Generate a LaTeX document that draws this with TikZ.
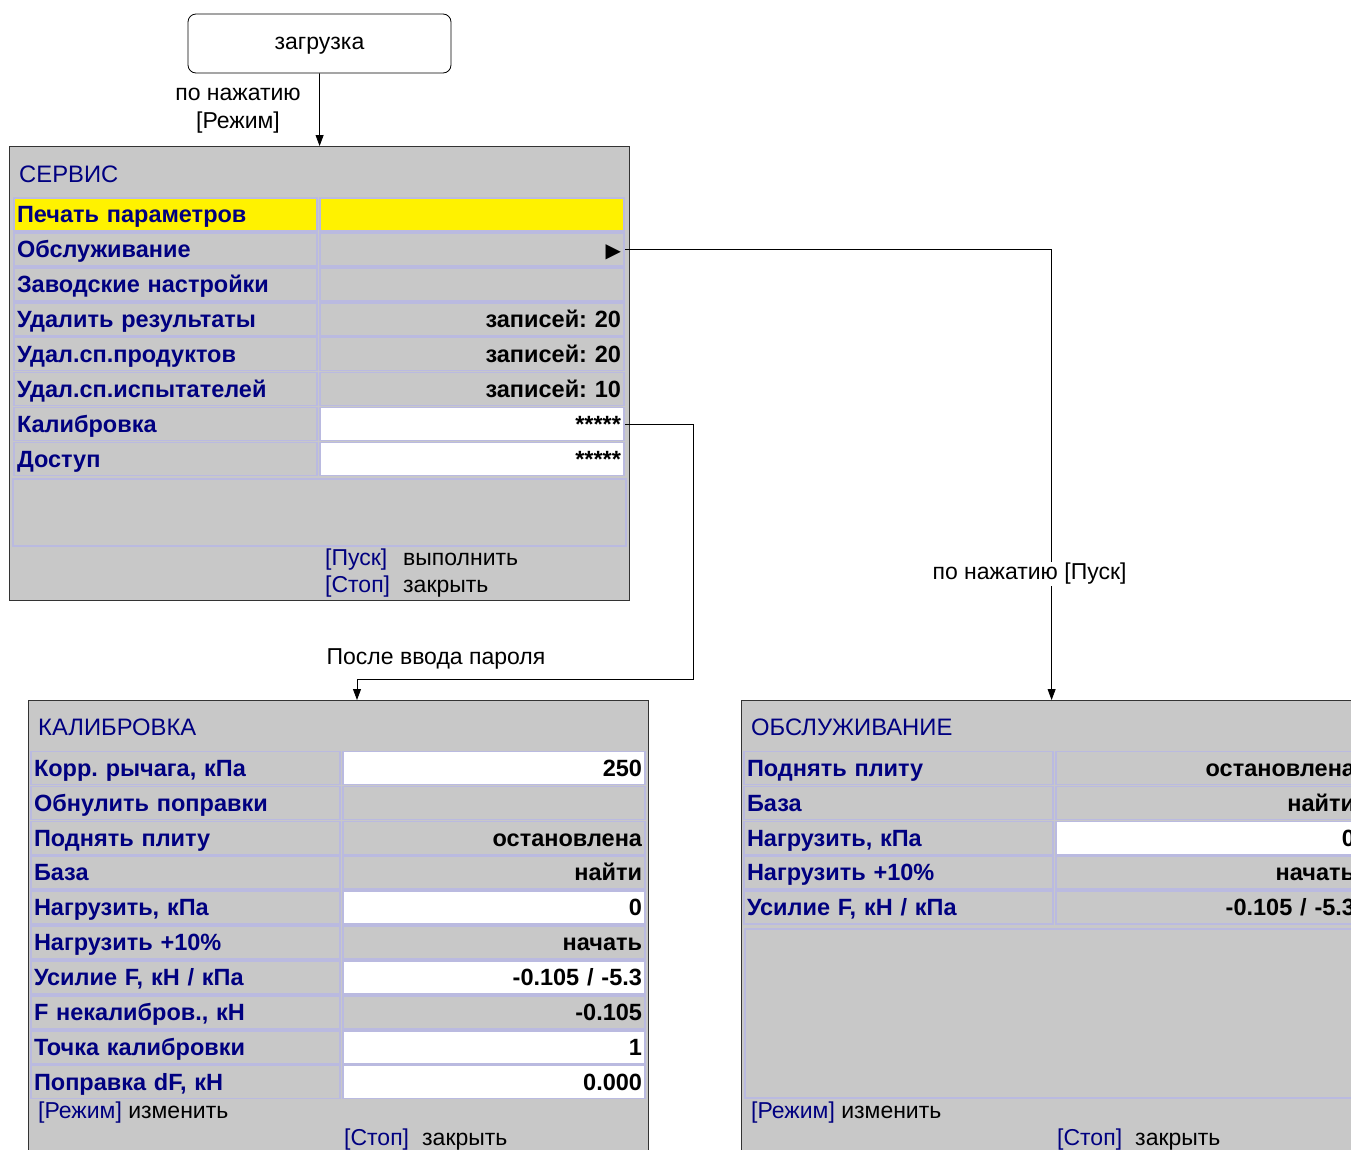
\documentclass[tikz,border=0pt]{standalone}
\usepackage{fontspec}
\setmainfont{Liberation Sans}
\newfontfamily\symfont{DejaVu Sans}
\usepackage{tikz}
\usetikzlibrary{positioning,calc,arrows.meta}

\definecolor{panelgray}{RGB}{200,200,200}
\definecolor{navy}{RGB}{0,0,128}
\definecolor{cellline}{RGB}{186,186,224}

\newcommand{\keytxt}[1]{\textcolor{navy}{#1}}
\frenchspacing

\tikzset{
  panel/.style={draw=black!80, line width=1.2pt, fill=panelgray, anchor=north west, inner sep=0pt},
  cell/.style={draw=cellline, line width=1.6pt, inner xsep=3pt, inner ysep=0pt, minimum height=33pt, text height=16.5pt, text depth=0pt, font=\fontsize{23.5}{23.5}\selectfont\bfseries},
  lcell/.style={cell, text=navy, align=left},
  rcell/.style={cell, align=right},
  blank/.style={draw=cellline, line width=1.6pt, fill=panelgray, anchor=north west, inner sep=0pt},
  title/.style={anchor=west, inner sep=0pt, text=navy, font=\fontsize{23.8}{23.8}\selectfont},
  lbl/.style={inner sep=1pt, font=\fontsize{23}{28}\selectfont, align=center},
  foot/.style={anchor=west, inner sep=0pt, font=\fontsize{23}{23}\selectfont},
  arr/.style={-{Stealth[length=11pt,width=8pt,inset=0pt]}, line width=0.8pt},
}

\begin{document}
\begin{tikzpicture}[x=1pt,y=-1pt]
  \useasboundingbox (0,0) rectangle (1351,1149);
  \clip (0,0) rectangle (1351,1149);

  \node[draw, rounded corners=8pt, line width=0.8pt, minimum width=263pt, minimum height=59pt, text height=12pt, text depth=0pt, font=\fontsize{23}{23}\selectfont] (load) at (319.5,43.5) {загрузка};

  % service menu
  \node[panel, minimum width=620pt, minimum height=454pt] (serv) at (9,146) {};
  \node[title] (servtitle) at (19,174) {СЕРВИС};
  \foreach \lab/\val/\lf/\rf [count=\i] in {
      Печать параметров//yellow/yellow,
      Обслуживание/{\symfont\fontsize{20}{20}\selectfont ▶}/panelgray/panelgray,
      Заводские настройки//panelgray/panelgray,
      Удалить результаты/записей: 20/panelgray/panelgray,
      Удал.сп.продуктов/записей: 20/panelgray/panelgray,
      Удал.сп.испытателей/записей: 10/panelgray/panelgray,
      Калибровка/*****/panelgray/white,
      Доступ/*****/panelgray/white}{
    \node[lcell, fill=\lf, text width=297pt] (serv-l\i) at (165.5,{214.5+(\i-1)*34.9}) {\lab};
    \node[rcell, fill=\rf, text width=298pt] (serv-r\i) at (472,{214.5+(\i-1)*34.9}) {\val};
  }
  \node[blank, minimum width=613pt, minimum height=67pt] (servgap) at (12,478) {};
  \node[foot] (servrun) at (325,560) {\makebox[78pt][l]{\keytxt{[Пуск]}}выполнить};
  \node[foot] (servclose) at (325,587) {\makebox[78pt][l]{\keytxt{[Стоп]}}закрыть};

  % calibration menu
  \node[panel, minimum width=620pt, minimum height=480pt] (calib) at (28,700) {};
  \node[title] (calibtitle) at (38,727) {КАЛИБРОВКА};
  \foreach \lab/\val/\rf [count=\i] in {
      {Корр. рычага, кПа}/250/white,
      Обнулить поправки//panelgray,
      Поднять плиту/остановлена/panelgray,
      База/найти/panelgray,
      {Нагрузить, кПа}/0/white,
      Нагрузить +10\%/начать/panelgray,
      {Усилие F, кН / кПа}/{-0.105 / -5.3}/white,
      {F некалибров., кН}/-0.105/panelgray,
      Точка калибровки/1/white,
      {Поправка dF, кН}/0.000/white}{
    \node[lcell, fill=panelgray, text width=303pt] (calib-l\i) at (185.5,{768+(\i-1)*34.9}) {\lab};
    \node[rcell, fill=\rf, text width=296pt] (calib-r\i) at (494,{768+(\i-1)*34.9}) {\val};
  }
  \node[foot] (calibedit) at (38,1113) {\keytxt{[Режим]} изменить};
  \node[foot] (calibclose) at (344,1140) {\makebox[78pt][l]{\keytxt{[Стоп]}}закрыть};

  % maintenance menu
  \node[panel, minimum width=620pt, minimum height=480pt] (maint) at (741,700) {};
  \node[title] (mainttitle) at (751,727) {ОБСЛУЖИВАНИЕ};
  \foreach \lab/\val/\rf [count=\i] in {
      Поднять плиту/остановлена/panelgray,
      База/найти/panelgray,
      {Нагрузить, кПа}/0/white,
      Нагрузить +10\%/начать/panelgray,
      {Усилие F, кН / кПа}/{-0.105 / -5.3}/panelgray}{
    \node[lcell, fill=panelgray, text width=303pt] (maint-l\i) at (898.5,{768+(\i-1)*34.9}) {\lab};
    \node[rcell, fill=\rf, text width=296pt] (maint-r\i) at (1207,{768+(\i-1)*34.9}) {\val};
  }
  \node[blank, minimum width=614pt, minimum height=169pt] (maintgap) at (744,928) {};
  \node[foot] (maintedit) at (751,1113) {\keytxt{[Режим]} изменить};
  \node[foot] (maintclose) at (1057,1140) {\makebox[78pt][l]{\keytxt{[Стоп]}}закрыть};

  % transitions
  \draw[arr] (load.south) -- (serv.north);
  \draw[arr] (serv-r2.east) -| (maint.north);
  \draw[arr] (serv-r7.east) -| (693,679) -| ($(calib.north west)+(329,0)$);
  \node[lbl] (modelbl) at (238,111) {по нажатию\\{[Режим]}};
  \node[lbl, fill=white] (runlbl) at (1029.5,574) {по нажатию [Пуск]};
  \node[lbl] (pwdlbl) at (436,659) {После ввода пароля};
\end{tikzpicture}
\end{document}
